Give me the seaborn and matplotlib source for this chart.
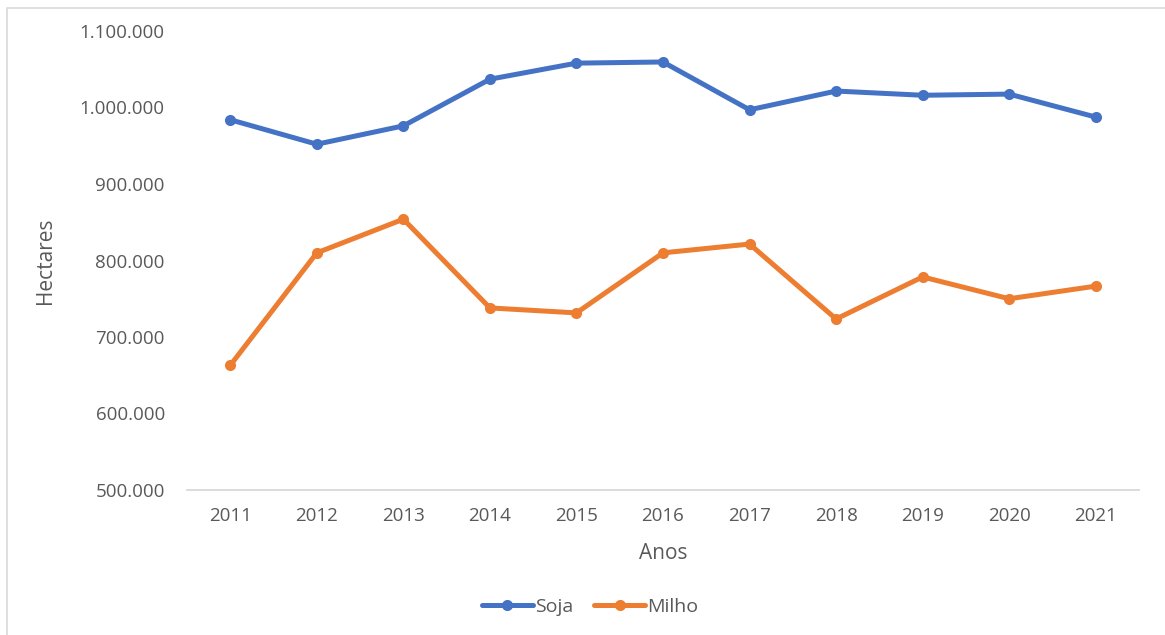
import matplotlib
matplotlib.use("Agg")
import matplotlib.pyplot as plt
import matplotlib.ticker as mticker
from matplotlib.patches import Rectangle
from matplotlib.lines import Line2D
import seaborn as sns
import pandas as pd

anos = [2011, 2012, 2013, 2014, 2015, 2016, 2017, 2018, 2019, 2020, 2021]
soja = [984000, 952000, 976000, 1037000, 1058000, 1059500, 997000, 1021500, 1016000, 1017500, 987500]
milho = [663000, 810000, 854000, 738000, 731500, 810000, 821500, 723500, 778500, 750000, 766500]
series_names = ["Soja", "Milho"]
colors = ["#4472C4", "#ED7D31"]
yticks = [500000, 600000, 700000, 800000, 900000, 1000000, 1100000]

df = pd.DataFrame({
    "Anos": [str(a) for a in anos] * 2,
    "Hectares": soja + milho,
    "Série": [series_names[0]] * len(anos) + [series_names[1]] * len(anos),
})

sns.set_style("white")
plt.rcParams["font.family"] = ["Open Sans", "DejaVu Sans"]

fig = plt.figure(figsize=(11.65, 6.35), dpi=100)
ax = fig.add_axes([187 / 1165, 1 - 490 / 635, (1139 - 187) / 1165, (490 - 31) / 635])

sns.lineplot(data=df, x="Anos", y="Hectares", hue="Série", palette=colors,
             marker="o", markersize=8, markeredgewidth=0, linewidth=3.6,
             sort=False, ax=ax, legend=False)

ax.set_xlim(-0.5, len(anos) - 0.5)
ax.set_ylim(500000, 1100000)
ax.set_yticks(yticks)
ax.yaxis.set_major_formatter(mticker.FuncFormatter(lambda v, p: f"{v:,.0f}".replace(",", ".")))

for s in ["top", "right", "left"]:
    ax.spines[s].set_visible(False)
ax.spines["bottom"].set_color("#D9D9D9")
ax.spines["bottom"].set_linewidth(1.3)
ax.tick_params(axis="both", length=0, labelsize=13.5, labelcolor="#595959")
ax.tick_params(axis="y", pad=16)
ax.tick_params(axis="x", pad=12)

ax.set_xlabel("Anos", fontsize=15, color="#595959")
ax.set_ylabel("Hectares", fontsize=15, color="#595959")
ax.xaxis.set_label_coords(0.5, -0.115)
ax.yaxis.set_label_coords(-0.138, 0.5)

handles = [Line2D([0], [0], color=c, lw=3.6, marker="o", markersize=8, markeredgewidth=0)
           for c in colors]
fig.legend(handles, series_names, loc="center", bbox_to_anchor=(590 / 1165, 1 - 607 / 635),
           ncol=2, frameon=False, fontsize=14, handlelength=2.6, handletextpad=0.1,
           columnspacing=1.1, labelcolor="#595959")

fig.patches.append(Rectangle((7 / 1165, -0.1), 1.2, 1 - 8 / 635 + 0.1, transform=fig.transFigure,
                             fill=False, edgecolor="#D9D9D9", linewidth=1.2, zorder=-1))

fig.savefig("out.png", dpi=100, facecolor="white")
